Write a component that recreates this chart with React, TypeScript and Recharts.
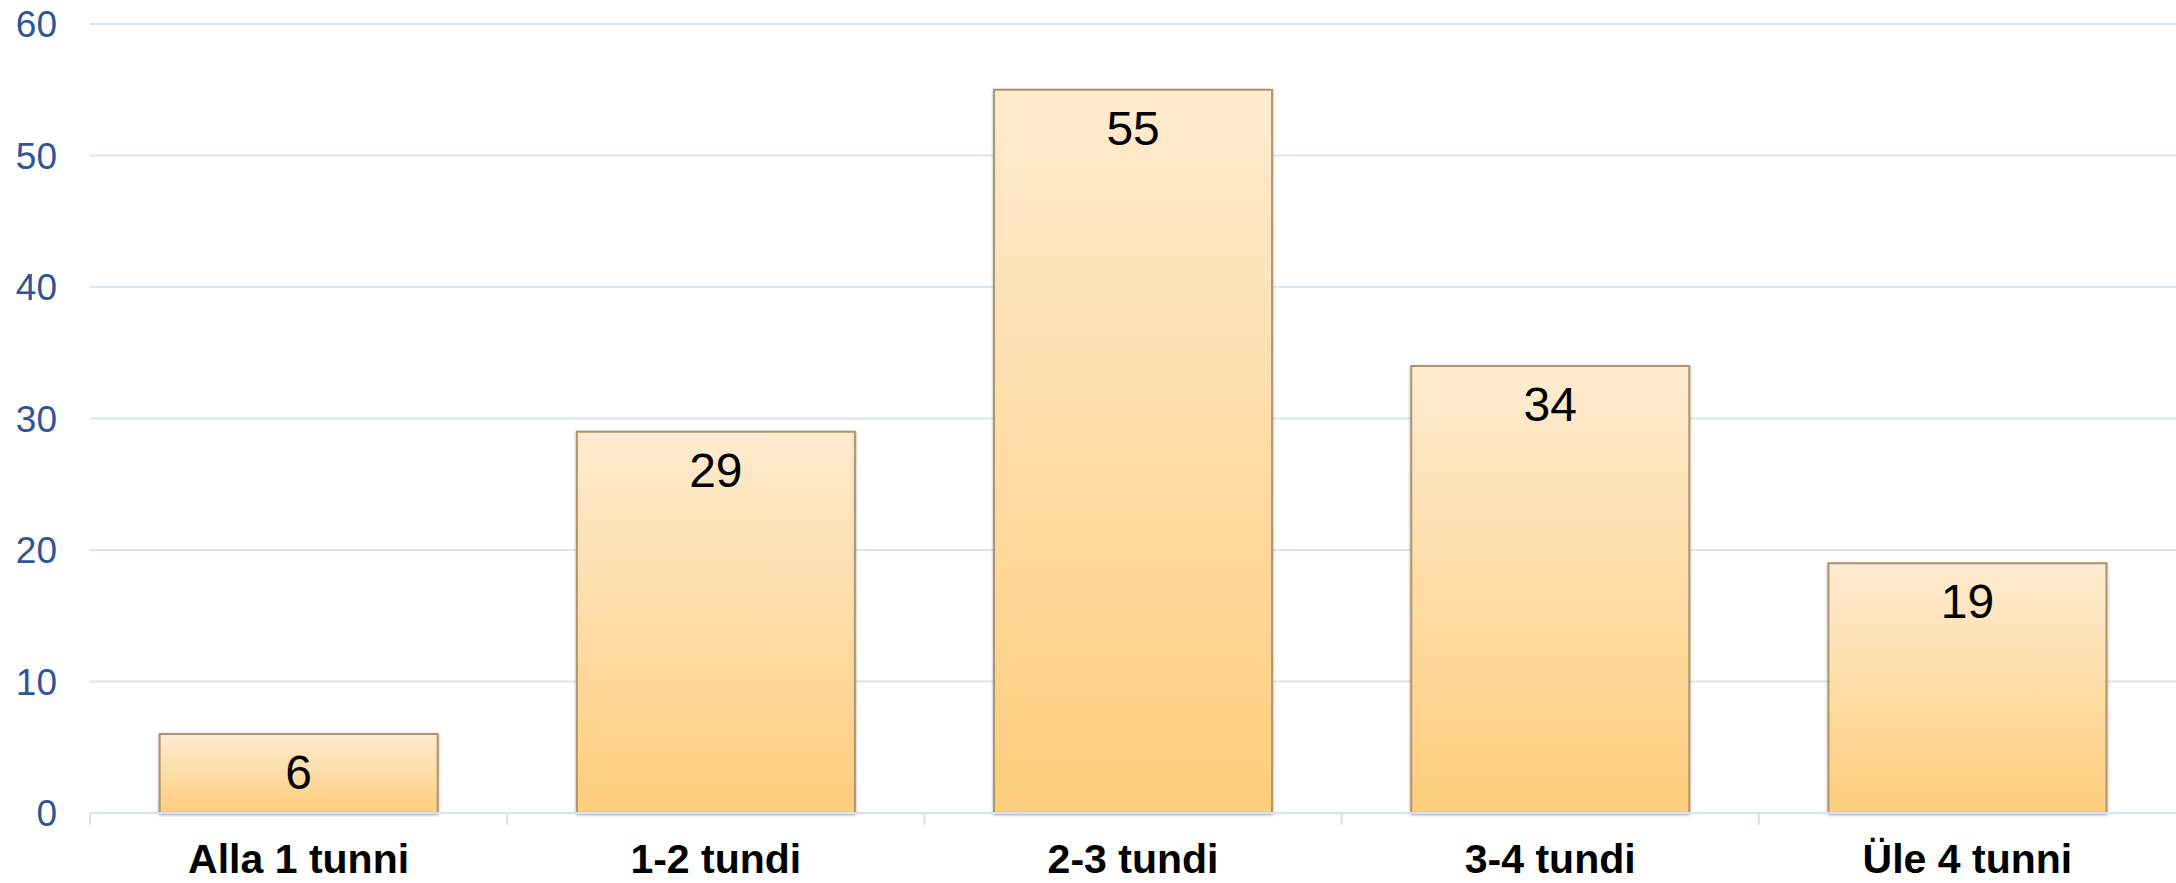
import React from 'react';
import { BarChart, Bar, XAxis, YAxis, CartesianGrid, LabelList } from 'recharts';

const categories = ['Alla 1 tunni', '1-2 tundi', '2-3 tundi', '3-4 tundi', 'Üle 4 tunni'];
const counts = [6, 29, 55, 34, 19];
const yTicks = [0, 10, 20, 30, 40, 50, 60];

const data = categories.map((name, i) => ({ name, value: counts[i] }));

const font = '"Liberation Sans", Arial, sans-serif';

const CategoryTick = (props: any) => {
  const { x, y, payload } = props;
  const half = payload.offset || 0;
  return (
    <g>
      <line x1={x - half} y1={y - 35} x2={x - half} y2={y - 23} stroke="#D6E1EF" strokeWidth={2} />
      <text x={x} y={y} dy={25} textAnchor="middle" fontFamily={font} fontSize={41} fontWeight="bold" fill="#000">
        {payload.value}
      </text>
    </g>
  );
};

const App: React.FC = () => {
  return (
    <div style={{ position: 'absolute', left: 0, top: 0, background: '#fff' }}>
      <BarChart
        width={2176}
        height={883}
        data={data}
        margin={{ top: 24, right: 0, bottom: 0, left: 0 }}
        barCategoryGap="16.7%"
      >
        <defs>
          <linearGradient id="barFill" x1="0" y1="0" x2="0" y2="1">
            <stop offset="0%" stopColor="#FEEBD0" />
            <stop offset="100%" stopColor="#FECD7C" />
          </linearGradient>
          <filter id="barShadow" x="-5%" y="-5%" width="110%" height="110%">
            <feDropShadow dx="0" dy="1" stdDeviation="1.5" floodColor="#000" floodOpacity="0.35" />
          </filter>
        </defs>
        <CartesianGrid vertical={false} stroke="#DCE6F2" strokeWidth={2} />
        <XAxis
          dataKey="name"
          height={70}
          axisLine={{ stroke: '#D6E1EF', strokeWidth: 2 }}
          tickLine={false}
          tickSize={0}
          tickMargin={35}
          interval={0}
          tick={<CategoryTick />}
        />
        <YAxis
          width={90}
          domain={[0, 60]}
          ticks={yTicks}
          axisLine={false}
          tickLine={false}
          tickSize={0}
          tickMargin={33}
          tick={{ fill: '#2F5597', fontSize: 37, fontFamily: font }}
        />
        <Bar
          dataKey="value"
          fill="url(#barFill)"
          stroke="#B0956C"
          strokeWidth={2}
          filter="url(#barShadow)"
          isAnimationActive={false}
        >
          <LabelList
            dataKey="value"
            position="insideTop"
            offset={21}
            fill="#000"
            fontSize={48}
            fontFamily={font}
          />
        </Bar>
      </BarChart>
    </div>
  );
};

export default App;
